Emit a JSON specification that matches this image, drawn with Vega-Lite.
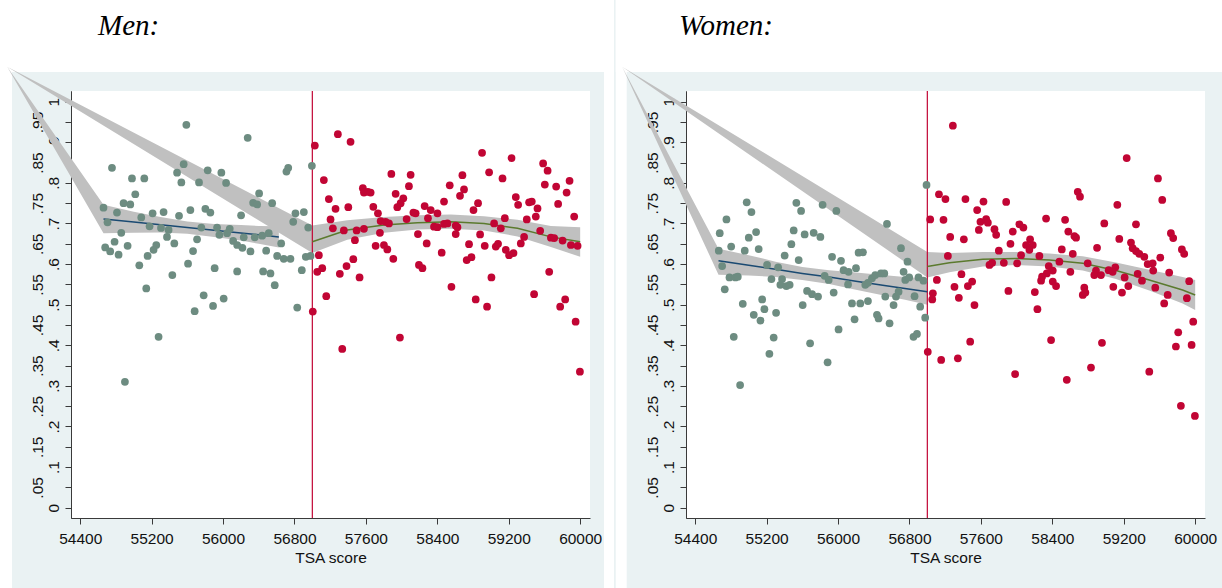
{
  "$schema": "https://vega.github.io/schema/vega-lite/v6.json",
  "background": "#EAF2F3",
  "padding": 0,
  "spacing": 0,
  "datasets": {
    "men": [
      {"score":55589,"share":0.943},{"score":56276,"share":0.911},{"score":54756,"share":0.837},{"score":54980,"share":0.811},
      {"score":55118,"share":0.811},{"score":55017,"share":0.772},{"score":54886,"share":0.750},{"score":54961,"share":0.747},
      {"score":54661,"share":0.739},{"score":54812,"share":0.727},{"score":54706,"share":0.703},{"score":55084,"share":0.715},
      {"score":55211,"share":0.725},{"score":55334,"share":0.728},{"score":55177,"share":0.693},{"score":54860,"share":0.677},
      {"score":54785,"share":0.655},{"score":54680,"share":0.641},{"score":54736,"share":0.631},{"score":54830,"share":0.623},
      {"score":54931,"share":0.645},{"score":55252,"share":0.647},{"score":55222,"share":0.635},{"score":55155,"share":0.620},
      {"score":55062,"share":0.597},{"score":55140,"share":0.540},{"score":55305,"share":0.689},{"score":55390,"share":0.684},
      {"score":55372,"share":0.667},{"score":55454,"share":0.651},{"score":55507,"share":0.719},{"score":55634,"share":0.733},
      {"score":55802,"share":0.736},{"score":55858,"share":0.727},{"score":55757,"share":0.690},{"score":55709,"share":0.661},
      {"score":55664,"share":0.632},{"score":55608,"share":0.601},{"score":55432,"share":0.573},{"score":55485,"share":0.825},
      {"score":55559,"share":0.846},{"score":55533,"share":0.801},{"score":55731,"share":0.801},{"score":55828,"share":0.831},
      {"score":55981,"share":0.825},{"score":56034,"share":0.800},{"score":56202,"share":0.720},{"score":55933,"share":0.690},
      {"score":55959,"share":0.672},{"score":56075,"share":0.687},{"score":56045,"share":0.676},{"score":56113,"share":0.657},
      {"score":56158,"share":0.647},{"score":56232,"share":0.666},{"score":56217,"share":0.640},{"score":56307,"share":0.631},
      {"score":55906,"share":0.590},{"score":56158,"share":0.582},{"score":55783,"share":0.523},{"score":56007,"share":0.515},
      {"score":56404,"share":0.774},{"score":56337,"share":0.751},{"score":56382,"share":0.747},{"score":56550,"share":0.750},
      {"score":56355,"share":0.666},{"score":56438,"share":0.670},{"score":56512,"share":0.676},{"score":56483,"share":0.633},
      {"score":56651,"share":0.651},{"score":56606,"share":0.620},{"score":56680,"share":0.613},{"score":56755,"share":0.613},
      {"score":56449,"share":0.582},{"score":56531,"share":0.577},{"score":56579,"share":0.548},{"score":56882,"share":0.585},
      {"score":56927,"share":0.618},{"score":56980,"share":0.620},{"score":56954,"share":0.690},{"score":56786,"share":0.704},
      {"score":56811,"share":0.725},{"score":56905,"share":0.728},{"score":56710,"share":0.828},{"score":56730,"share":0.837},
      {"score":56995,"share":0.842},{"score":55682,"share":0.484},{"score":55888,"share":0.497},{"score":56831,"share":0.493},
      {"score":55278,"share":0.421},{"score":54901,"share":0.310},
      {"score":57028,"share":0.892},{"score":57286,"share":0.920},{"score":57428,"share":0.901},{"score":58901,"share":0.874},
      {"score":59231,"share":0.861},{"score":59585,"share":0.848},{"score":59635,"share":0.830},{"score":58980,"share":0.826},
      {"score":57885,"share":0.822},{"score":58101,"share":0.820},{"score":58681,"share":0.819},{"score":59130,"share":0.811},
      {"score":57129,"share":0.807},{"score":58082,"share":0.792},{"score":58539,"share":0.794},{"score":59881,"share":0.805},
      {"score":59604,"share":0.796},{"score":59731,"share":0.791},{"score":57566,"share":0.787},{"score":57622,"share":0.778},
      {"score":57578,"share":0.776},{"score":57653,"share":0.776},{"score":57933,"share":0.773},{"score":58699,"share":0.784},
      {"score":58654,"share":0.768},{"score":59848,"share":0.776},{"score":57185,"share":0.760},{"score":58019,"share":0.762},
      {"score":57989,"share":0.750},{"score":57952,"share":0.740},{"score":59279,"share":0.765},{"score":59305,"share":0.746},
      {"score":59428,"share":0.752},{"score":59458,"share":0.754},{"score":59753,"share":0.748},{"score":58856,"share":0.750},
      {"score":58805,"share":0.733},{"score":58475,"share":0.754},{"score":57403,"share":0.740},{"score":57260,"share":0.736},
      {"score":57683,"share":0.741},{"score":58258,"share":0.743},{"score":58326,"share":0.733},{"score":58401,"share":0.725},
      {"score":57735,"share":0.725},{"score":58132,"share":0.727},{"score":58157,"share":0.725},{"score":59522,"share":0.737},
      {"score":59503,"share":0.717},{"score":59402,"share":0.710},{"score":59933,"share":0.717},{"score":57204,"share":0.710},
      {"score":58056,"share":0.711},{"score":57765,"share":0.706},{"score":57821,"share":0.704},{"score":57858,"share":0.700},
      {"score":58295,"share":0.713},{"score":59156,"share":0.713},{"score":58363,"share":0.692},{"score":58401,"share":0.691},
      {"score":58475,"share":0.699},{"score":58513,"share":0.700},{"score":58606,"share":0.695},{"score":58625,"share":0.691},
      {"score":59036,"share":0.700},{"score":59111,"share":0.688},{"score":57230,"share":0.688},{"score":57353,"share":0.683},
      {"score":57496,"share":0.683},{"score":57578,"share":0.687},{"score":57757,"share":0.677},{"score":58183,"share":0.674},
      {"score":58606,"share":0.674},{"score":58879,"share":0.673},{"score":59552,"share":0.682},{"score":57477,"share":0.659},
      {"score":59372,"share":0.667},{"score":59335,"share":0.651},{"score":59672,"share":0.665},{"score":59709,"share":0.664},
      {"score":59803,"share":0.658},{"score":59896,"share":0.647},{"score":59971,"share":0.645},{"score":58281,"share":0.651},
      {"score":58755,"share":0.649},{"score":58931,"share":0.645},{"score":59055,"share":0.643},{"score":59080,"share":0.650},
      {"score":57709,"share":0.645},{"score":57802,"share":0.647},{"score":57840,"share":0.636},{"score":57073,"share":0.622},
      {"score":59167,"share":0.635},{"score":59204,"share":0.622},{"score":59253,"share":0.627},{"score":58449,"share":0.628},
      {"score":57907,"share":0.613},{"score":58729,"share":0.610},{"score":58782,"share":0.617},{"score":57459,"share":0.612},
      {"score":57383,"share":0.595},{"score":57055,"share":0.581},{"score":57111,"share":0.590},{"score":58194,"share":0.598},
      {"score":58233,"share":0.590},{"score":57308,"share":0.576},{"score":57529,"share":0.567},{"score":59006,"share":0.567},
      {"score":59653,"share":0.581},{"score":58558,"share":0.544},{"score":57156,"share":0.521},{"score":58830,"share":0.513},
      {"score":59484,"share":0.526},{"score":59832,"share":0.513},{"score":57005,"share":0.483},{"score":58957,"share":0.495},
      {"score":59776,"share":0.495},{"score":59949,"share":0.458},{"score":59997,"share":0.335},{"score":57335,"share":0.391},
      {"score":57981,"share":0.419}
    ],
    "women": [
      {"score":54977,"share":0.752},{"score":55030,"share":0.728},{"score":54750,"share":0.710},{"score":55533,"share":0.751},
      {"score":55586,"share":0.731},{"score":55827,"share":0.746},{"score":55981,"share":0.731},{"score":56548,"share":0.699},
      {"score":56991,"share":0.795},{"score":54675,"share":0.676},{"score":55000,"share":0.665},{"score":55082,"share":0.679},
      {"score":55503,"share":0.683},{"score":55626,"share":0.673},{"score":55727,"share":0.677},{"score":55802,"share":0.667},
      {"score":54803,"share":0.643},{"score":54664,"share":0.633},{"score":54955,"share":0.633},{"score":55111,"share":0.637},
      {"score":55477,"share":0.649},{"score":55402,"share":0.621},{"score":55559,"share":0.610},{"score":55933,"share":0.618},
      {"score":56230,"share":0.628},{"score":56279,"share":0.629},{"score":56705,"share":0.639},{"score":56778,"share":0.606},
      {"score":54702,"share":0.595},{"score":55205,"share":0.598},{"score":55329,"share":0.592},{"score":56033,"share":0.608},
      {"score":56062,"share":0.585},{"score":56118,"share":0.581},{"score":56201,"share":0.590},{"score":54784,"share":0.567},
      {"score":54851,"share":0.567},{"score":54877,"share":0.569},{"score":55254,"share":0.563},{"score":55373,"share":0.563},
      {"score":55354,"share":0.549},{"score":55421,"share":0.546},{"score":55458,"share":0.549},{"score":55850,"share":0.571},
      {"score":55895,"share":0.561},{"score":56112,"share":0.550},{"score":56305,"share":0.549},{"score":56335,"share":0.554},
      {"score":56380,"share":0.565},{"score":56417,"share":0.573},{"score":56481,"share":0.577},{"score":56518,"share":0.577},
      {"score":56734,"share":0.581},{"score":56753,"share":0.561},{"score":56797,"share":0.567},{"score":56901,"share":0.567},
      {"score":56957,"share":0.559},{"score":54731,"share":0.538},{"score":55150,"share":0.513},{"score":54933,"share":0.502},
      {"score":55175,"share":0.489},{"score":55056,"share":0.475},{"score":55131,"share":0.461},{"score":55306,"share":0.480},
      {"score":55604,"share":0.499},{"score":55653,"share":0.534},{"score":55709,"share":0.526},{"score":55776,"share":0.520},
      {"score":55951,"share":0.530},{"score":56156,"share":0.503},{"score":56249,"share":0.503},{"score":56335,"share":0.509},
      {"score":56185,"share":0.464},{"score":56436,"share":0.475},{"score":56454,"share":0.466},{"score":56529,"share":0.520},
      {"score":56622,"share":0.499},{"score":56649,"share":0.520},{"score":56678,"share":0.532},{"score":56577,"share":0.454},
      {"score":56857,"share":0.521},{"score":56920,"share":0.495},{"score":56976,"share":0.468},{"score":56006,"share":0.439},
      {"score":54832,"share":0.421},{"score":55279,"share":0.419},{"score":56845,"share":0.421},{"score":56884,"share":0.428},
      {"score":55687,"share":0.405},{"score":54903,"share":0.302},{"score":55231,"share":0.379},{"score":55883,"share":0.358},
      {"score":57286,"share":0.941},{"score":59233,"share":0.861},{"score":59583,"share":0.811},{"score":59631,"share":0.758},
      {"score":58685,"share":0.778},{"score":58710,"share":0.766},{"score":57883,"share":0.753},{"score":59128,"share":0.746},
      {"score":57130,"share":0.772},{"score":57203,"share":0.760},{"score":57427,"share":0.760},{"score":57629,"share":0.754},
      {"score":57558,"share":0.733},{"score":57032,"share":0.710},{"score":57181,"share":0.709},{"score":57595,"share":0.704},
      {"score":57659,"share":0.711},{"score":57678,"share":0.702},{"score":57752,"share":0.686},{"score":57771,"share":0.672},
      {"score":57577,"share":0.684},{"score":57957,"share":0.680},{"score":58031,"share":0.698},{"score":58076,"share":0.690},
      {"score":57256,"share":0.667},{"score":57409,"share":0.661},{"score":57931,"share":0.650},{"score":58151,"share":0.661},
      {"score":58181,"share":0.647},{"score":58106,"share":0.647},{"score":58143,"share":0.635},{"score":58330,"share":0.712},
      {"score":58543,"share":0.709},{"score":58579,"share":0.680},{"score":58647,"share":0.669},{"score":58666,"share":0.665},
      {"score":58982,"share":0.700},{"score":59337,"share":0.698},{"score":59150,"share":0.662},{"score":59281,"share":0.653},
      {"score":59300,"share":0.639},{"score":59337,"share":0.632},{"score":59728,"share":0.676},{"score":59754,"share":0.664},
      {"score":59851,"share":0.636},{"score":59877,"share":0.625},{"score":57230,"share":0.620},{"score":57801,"share":0.633},
      {"score":57726,"share":0.603},{"score":57857,"share":0.603},{"score":57696,"share":0.598},{"score":58006,"share":0.602},
      {"score":58050,"share":0.622},{"score":58255,"share":0.620},{"score":58506,"share":0.636},{"score":58629,"share":0.625},
      {"score":58901,"share":0.640},{"score":58479,"share":0.606},{"score":58360,"share":0.595},{"score":58405,"share":0.584},
      {"score":58338,"share":0.577},{"score":58285,"share":0.569},{"score":58602,"share":0.581},{"score":58796,"share":0.602},
      {"score":58889,"share":0.584},{"score":58870,"share":0.573},{"score":58945,"share":0.573},{"score":59031,"share":0.585},
      {"score":59105,"share":0.592},{"score":59076,"share":0.581},{"score":59374,"share":0.625},{"score":59430,"share":0.618},
      {"score":59468,"share":0.600},{"score":59524,"share":0.602},{"score":59530,"share":0.584},{"score":59609,"share":0.616},
      {"score":59356,"share":0.576},{"score":59404,"share":0.559},{"score":59709,"share":0.579},{"score":59933,"share":0.558},
      {"score":59210,"share":0.567},{"score":59251,"share":0.546},{"score":59180,"share":0.530},{"score":59083,"share":0.544},
      {"score":59553,"share":0.542},{"score":58758,"share":0.542},{"score":58741,"share":0.524},{"score":58770,"share":0.530},
      {"score":58405,"share":0.557},{"score":58442,"share":0.546},{"score":58274,"share":0.559},{"score":59692,"share":0.524},
      {"score":59653,"share":0.503},{"score":59907,"share":0.516},{"score":59978,"share":0.458},{"score":59810,"share":0.432},
      {"score":57107,"share":0.561},{"score":57062,"share":0.528},{"score":57055,"share":0.513},{"score":57382,"share":0.575},
      {"score":57304,"share":0.544},{"score":57454,"share":0.546},{"score":57502,"share":0.557},{"score":57353,"share":0.517},
      {"score":57528,"share":0.499},{"score":57908,"share":0.534},{"score":58204,"share":0.531},{"score":58233,"share":0.489},
      {"score":57005,"share":0.384},{"score":57155,"share":0.364},{"score":57342,"share":0.368},{"score":57480,"share":0.409},
      {"score":57983,"share":0.329},{"score":58386,"share":0.413},{"score":58562,"share":0.315},{"score":58833,"share":0.345},
      {"score":58956,"share":0.406},{"score":59486,"share":0.335},{"score":59784,"share":0.397},{"score":59960,"share":0.401},
      {"score":59840,"share":0.251},{"score":59997,"share":0.226}
    ],
    "menFit": [
      {"side":"below","score":53582,"lo":1.086,"hi":1.086},
      {"side":"below","score":54661,"fit":0.711,"lo":0.676,"hi":0.746},
      {"side":"below","score":55000,"fit":0.7034,"lo":0.677,"hi":0.729},
      {"side":"below","score":55300,"fit":0.6967,"lo":0.678,"hi":0.716},
      {"side":"below","score":55600,"fit":0.690,"lo":0.675,"hi":0.705},
      {"side":"below","score":55900,"fit":0.6833,"lo":0.667,"hi":0.699},
      {"side":"below","score":56200,"fit":0.6766,"lo":0.658,"hi":0.696},
      {"side":"below","score":56400,"fit":0.6721,"lo":0.650,"hi":0.694},
      {"side":"below","score":56625,"fit":0.667,"lo":0.641,"hi":0.693},
      {"side":"above","score":53582,"lo":1.086,"hi":1.086},
      {"side":"above","score":57000,"fit":0.655,"lo":0.627,"hi":0.695},
      {"side":"above","score":57391,"fit":0.684,"lo":0.660,"hi":0.708},
      {"side":"above","score":57802,"fit":0.696,"lo":0.677,"hi":0.716},
      {"side":"above","score":58177,"fit":0.702,"lo":0.685,"hi":0.720},
      {"side":"above","score":58550,"fit":0.704,"lo":0.687,"hi":0.722},
      {"side":"above","score":58923,"fit":0.700,"lo":0.683,"hi":0.718},
      {"side":"above","score":59298,"fit":0.688,"lo":0.668,"hi":0.709},
      {"side":"above","score":59672,"fit":0.667,"lo":0.642,"hi":0.694},
      {"side":"above","score":60000,"fit":0.655,"lo":0.618,"hi":0.691}
    ],
    "womenFit": [
      {"side":"below","score":53582,"lo":1.086,"hi":1.086},
      {"side":"below","score":54661,"fit":0.608,"lo":0.574,"hi":0.638},
      {"side":"below","score":55000,"fit":0.597,"lo":0.572,"hi":0.622},
      {"side":"below","score":55300,"fit":0.587,"lo":0.568,"hi":0.606},
      {"side":"below","score":55600,"fit":0.577,"lo":0.561,"hi":0.593},
      {"side":"below","score":55900,"fit":0.568,"lo":0.551,"hi":0.585},
      {"side":"below","score":56200,"fit":0.558,"lo":0.537,"hi":0.579},
      {"side":"below","score":56500,"fit":0.548,"lo":0.523,"hi":0.573},
      {"side":"below","score":56750,"fit":0.540,"lo":0.512,"hi":0.568},
      {"side":"below","score":57000,"fit":0.532,"lo":0.500,"hi":0.564},
      {"side":"above","score":53582,"lo":1.086,"hi":1.086},
      {"side":"above","score":57000,"fit":0.594,"lo":0.567,"hi":0.630},
      {"side":"above","score":57248,"fit":0.603,"lo":0.580,"hi":0.627},
      {"side":"above","score":57622,"fit":0.612,"lo":0.594,"hi":0.630},
      {"side":"above","score":57994,"fit":0.614,"lo":0.598,"hi":0.630},
      {"side":"above","score":58367,"fit":0.610,"lo":0.594,"hi":0.626},
      {"side":"above","score":58741,"fit":0.602,"lo":0.584,"hi":0.619},
      {"side":"above","score":59113,"fit":0.584,"lo":0.563,"hi":0.604},
      {"side":"above","score":59486,"fit":0.561,"lo":0.535,"hi":0.586},
      {"side":"above","score":59859,"fit":0.536,"lo":0.503,"hi":0.568},
      {"side":"above","score":60000,"fit":0.524,"lo":0.487,"hi":0.561}
    ]
  },
  "hconcat": [
    {
      "width": 519,
      "height": 427,
      "title": {"text": "Men:", "anchor": "start", "frame": "group", "dx": 27, "offset": -64, "baseline": "alphabetic", "font": "Liberation Serif", "fontSize": 29, "fontStyle": "italic", "fontWeight": "normal", "color": "#000000"},
      "resolve": {"axis": {"y": "independent"}},
      "layer": [
        {"data": {"values": [{}]}, "mark": {"type": "rect", "color": "white"},
         "encoding": {"x": {"datum": 53502, "type": "quantitative"}, "x2": {"datum": 60379}, "y": {"datum": 1.0731, "type": "quantitative", "axis": null}, "y2": {"datum": 1.2504}}},
        {"data": {"values": [{}]}, "mark": {"type": "rect", "color": "white"},
         "encoding": {"x": {"datum": 53502, "type": "quantitative"}, "x2": {"datum": 53636}, "y": {"datum": -0.2766, "type": "quantitative", "axis": null}, "y2": {"datum": 1.2504}}},
        {"data": {"values": [{}]}, "mark": {"type": "rect", "color": "white"},
         "encoding": {"x": {"datum": 60267, "type": "quantitative"}, "x2": {"datum": 60379}, "y": {"datum": -0.2766, "type": "quantitative", "axis": null}, "y2": {"datum": 1.2504}}},
        {"data": {"name": "menFit"}, "mark": {"type": "area", "color": "#C0C0C0", "opacity": 1},
         "encoding": {
           "x": {"field": "score", "type": "quantitative", "scale": {"domain": [54297, 60110], "nice": false, "zero": false},
                 "axis": {"title": "TSA score", "values": [54400, 55200, 56000, 56800, 57600, 58400, 59200, 60000], "format": "d", "grid": false, "labelFlush": false, "labelOverlap": false}},
           "y": {"field": "hi", "type": "quantitative", "scale": {"domain": [-0.0254, 1.0263], "nice": false, "zero": false},
                 "axis": {"title": null, "orient": "left", "values": [0, 0.1, 0.2, 0.3, 0.4, 0.5, 0.6, 0.7, 0.8, 0.9, 1],
                          "labelPadding": 7, "labelExpr": "replace(format(datum.value, '.2~f'), '0.', '.')"}},
           "y2": {"field": "lo"},
           "detail": {"field": "side"}
         }},
        {"data": {"values": [{}]}, "mark": {"type": "rule", "color": "#C10534", "strokeWidth": 1.2},
         "encoding": {"x": {"datum": 57000, "type": "quantitative"}}},
        {"data": {"name": "menFit"}, "transform": [{"filter": "datum.fit != null"}],
         "mark": {"type": "line", "strokeWidth": 1.5},
         "encoding": {
           "x": {"field": "score", "type": "quantitative"},
           "y": {"field": "fit", "type": "quantitative", "axis": null},
           "color": {"field": "side", "type": "nominal", "scale": {"domain": ["below", "above"], "range": ["#1A4A72", "#5B7A2E"]}, "legend": null}
         }},
        {"data": {"name": "men"}, "mark": {"type": "circle", "size": 60, "opacity": 1},
         "encoding": {
           "x": {"field": "score", "type": "quantitative"},
           "y": {"field": "share", "type": "quantitative",
                 "axis": {"title": null, "orient": "left", "values": [0.05, 0.15, 0.25, 0.35, 0.45, 0.55, 0.65, 0.75, 0.85, 0.95],
                          "labelPadding": 23, "labelExpr": "replace(format(datum.value, '.2~f'), '0.', '.')"}},
           "color": {"condition": {"test": "datum.score < 57000", "value": "#6D8C81"}, "value": "#C10534"}
         }}
      ]
    },
    {
      "width": 519,
      "height": 427,
      "title": {"text": "Women:", "anchor": "start", "frame": "group", "dx": -7, "offset": -64, "baseline": "alphabetic", "font": "Liberation Serif", "fontSize": 29, "fontStyle": "italic", "fontWeight": "normal", "color": "#000000"},
      "resolve": {"axis": {"y": "independent"}},
      "layer": [
        {"data": {"values": [{}]}, "mark": {"type": "rect", "color": "white"},
         "encoding": {"x": {"datum": 53510, "type": "quantitative"}, "x2": {"datum": 60319}, "y": {"datum": 1.0731, "type": "quantitative", "axis": null}, "y2": {"datum": 1.2504}}},
        {"data": {"values": [{}]}, "mark": {"type": "rect", "color": "white"},
         "encoding": {"x": {"datum": 53510, "type": "quantitative"}, "x2": {"datum": 53633}, "y": {"datum": -0.2766, "type": "quantitative", "axis": null}, "y2": {"datum": 1.2504}}},
        {"data": {"name": "womenFit"}, "mark": {"type": "area", "color": "#C0C0C0", "opacity": 1},
         "encoding": {
           "x": {"field": "score", "type": "quantitative", "scale": {"domain": [54297, 60110], "nice": false, "zero": false},
                 "axis": {"title": "TSA score", "values": [54400, 55200, 56000, 56800, 57600, 58400, 59200, 60000], "format": "d", "grid": false, "labelFlush": false, "labelOverlap": false}},
           "y": {"field": "hi", "type": "quantitative", "scale": {"domain": [-0.0254, 1.0263], "nice": false, "zero": false},
                 "axis": {"title": null, "orient": "left", "values": [0, 0.1, 0.2, 0.3, 0.4, 0.5, 0.6, 0.7, 0.8, 0.9, 1],
                          "labelPadding": 7, "labelExpr": "replace(format(datum.value, '.2~f'), '0.', '.')"}},
           "y2": {"field": "lo"},
           "detail": {"field": "side"}
         }},
        {"data": {"values": [{}]}, "mark": {"type": "rule", "color": "#C10534", "strokeWidth": 1.2},
         "encoding": {"x": {"datum": 57000, "type": "quantitative"}}},
        {"data": {"name": "womenFit"}, "transform": [{"filter": "datum.fit != null"}],
         "mark": {"type": "line", "strokeWidth": 1.5},
         "encoding": {
           "x": {"field": "score", "type": "quantitative"},
           "y": {"field": "fit", "type": "quantitative", "axis": null},
           "color": {"field": "side", "type": "nominal", "scale": {"domain": ["below", "above"], "range": ["#1A4A72", "#5B7A2E"]}, "legend": null}
         }},
        {"data": {"name": "women"}, "mark": {"type": "circle", "size": 60, "opacity": 1},
         "encoding": {
           "x": {"field": "score", "type": "quantitative"},
           "y": {"field": "share", "type": "quantitative",
                 "axis": {"title": null, "orient": "left", "values": [0.05, 0.15, 0.25, 0.35, 0.45, 0.55, 0.65, 0.75, 0.85, 0.95],
                          "labelPadding": 23, "labelExpr": "replace(format(datum.value, '.2~f'), '0.', '.')"}},
           "color": {"condition": {"test": "datum.score < 57000", "value": "#6D8C81"}, "value": "#C10534"}
         }}
      ]
    }
  ],
  "config": {
    "view": {"fill": "white", "stroke": null},
    "axis": {
      "domainColor": "#3A3A3A", "domainWidth": 1,
      "tickColor": "#3A3A3A", "tickWidth": 1, "tickSize": 6,
      "labelColor": "#111111", "labelFont": "Liberation Sans", "labelFontSize": 15.5,
      "titleColor": "#111111", "titleFont": "Liberation Sans", "titleFontSize": 15.5, "titleFontWeight": "normal"
    },
    "axisX": {"labelPadding": 7, "titlePadding": 4},
    "axisY": {"grid": true, "gridColor": "#E3ECEE", "gridWidth": 1.6, "labelAngle": -90, "labelAlign": "center", "labelBaseline": "alphabetic", "labelOverlap": false, "labelFlush": false}
  }
}
